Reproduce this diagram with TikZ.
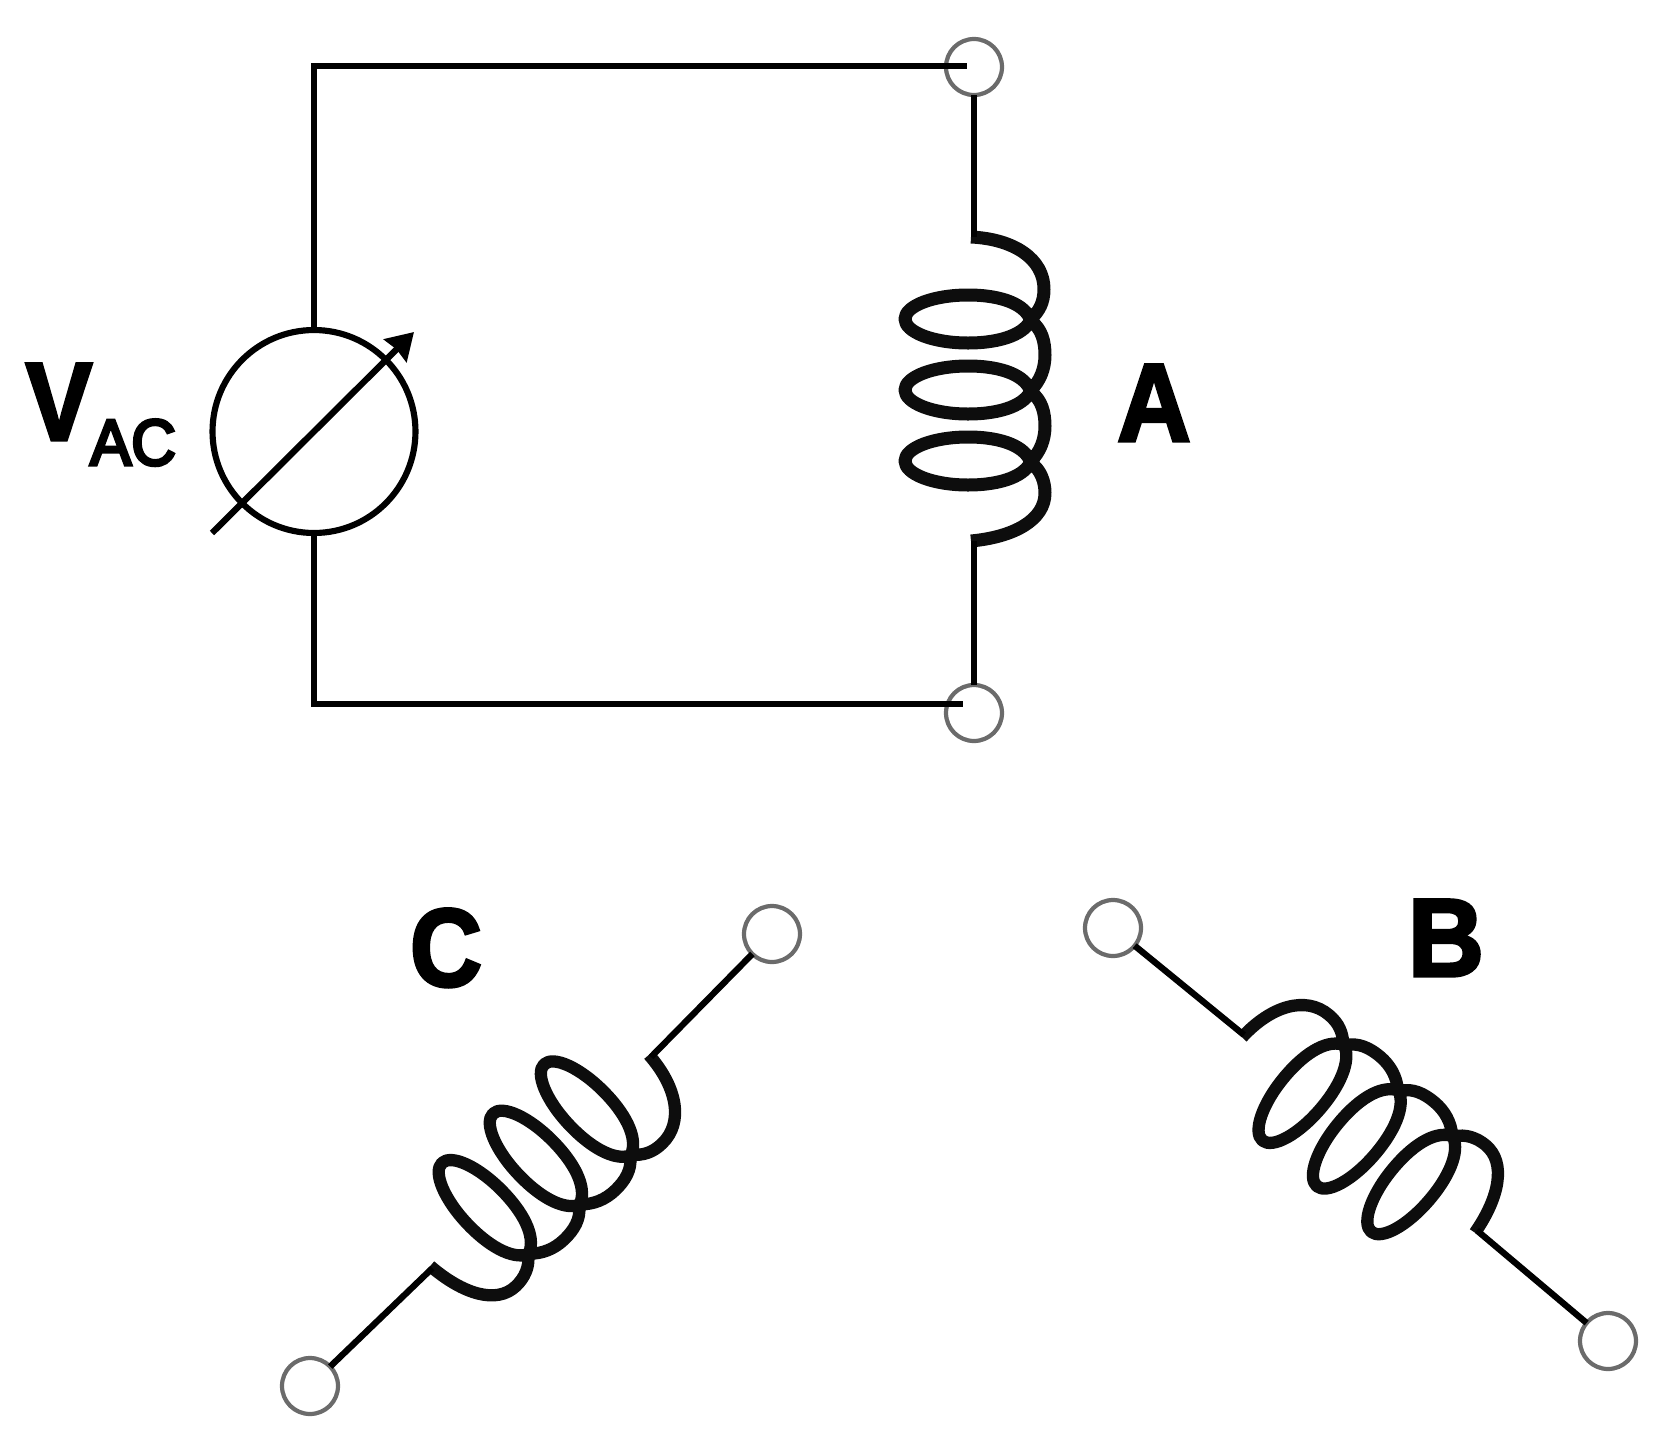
\documentclass[tikz,border=0pt]{standalone}
\usepackage{fontspec}
\setmainfont{Liberation Sans}
\newfontfamily\heavyface[FakeBold=3]{Liberation Sans Bold}
\newfontfamily\medface[FakeBold=5]{Liberation Sans}
\usetikzlibrary{arrows.meta}
\tikzset{
  wire/.style={line width=3.6pt,black,line cap=butt,line join=miter},
  coilwire/.style={line width=#1,black!95!white,line cap=butt,line join=round},
  terminal/.style={circle,draw=black!58,line width=2.4pt,minimum size=1.12cm,inner sep=0pt,outer sep=0pt},
  source/.style={circle,draw=black,line width=3.5pt,minimum size=4.06cm,inner sep=0pt,outer sep=0pt},
  biglabel/.style={inner sep=0pt,outer sep=0pt,anchor=base,font=\fontsize{63}{63}\selectfont\heavyface},
  sublabel/.style={inner sep=0pt,outer sep=0pt,anchor=base,font=\fontsize{37}{37}\selectfont\medface},
}
\newcommand{\coilshape}{
  (-3,0) .. controls (40,2) and (70,22) .. (70,52) .. controls (70,66) and (65,74) .. (57,82)
  .. controls (52,96) and (29,106) .. (-6,106) .. controls (-41,106) and (-69,95) .. (-69,82)
  .. controls (-69,69) and (-41,58) .. (-6,58) .. controls (29,58) and (52,68) .. (57,84)
  .. controls (68,92) and (71,105) .. (71,118) .. controls (71,132) and (66,144) .. (57,153)
  .. controls (52,167) and (29,177) .. (-6,177) .. controls (-41,177) and (-69,166) .. (-69,153)
  .. controls (-69,140) and (-41,129) .. (-6,129) .. controls (29,129) and (52,139) .. (57,155)
  .. controls (68,163) and (71,176) .. (71,189) .. controls (71,203) and (66,215) .. (57,224)
  .. controls (52,238) and (29,248) .. (-6,248) .. controls (-41,248) and (-69,237) .. (-69,224)
  .. controls (-69,211) and (-41,200) .. (-6,200) .. controls (29,200) and (52,210) .. (57,226)
  .. controls (67,233) and (71,245) .. (71,256) .. controls (71,283) and (40,300) .. (-3,304)
}
\begin{document}
\begin{tikzpicture}[x=0.02cm,y=-0.02cm]
\useasboundingbox (0,0) rectangle (1668,1444);

% Source circuit
\node[source] (vac) at (314,431.5) {};
\node[terminal] (tA1) at (974,67) {};
\node[terminal] (tA2) at (974,713) {};
\coordinate (cornerT) at (314,66);
\coordinate (cornerB) at (314,704);
\coordinate (endT) at (967,66);
\coordinate (endB) at (963,704);
\coordinate (arrowS) at (212,533);
\coordinate (arrowE) at (414,332);
\draw[wire] (vac.north) -- (cornerT) -- (endT);
\draw[wire] (vac.south) -- (cornerB) -- (endB);
\draw[wire,-{Stealth[length=15pt,width=18pt,inset=1pt]}] (arrowS) -- (arrowE);

% Coil A
\begin{scope}[shift={(974,237)}]
  \coordinate (a1) at (0,0);
  \coordinate (a2) at (0,304);
  \draw[coilwire=7.4pt] \coilshape;
\end{scope}
\draw[wire] (tA1) -- (a1);
\draw[wire] (a2) -- (tA2);

% Coil B
\node[terminal] (tB1) at (1113,928) {};
\node[terminal] (tB2) at (1608,1341) {};
\begin{scope}[shift={(1244,1035)},rotate=50]
  \coordinate (b1) at (0,0);
  \coordinate (b2) at (0,304);
  \draw[coilwire=7pt] \coilshape;
\end{scope}
\draw[wire] (tB1) -- (b1);
\draw[wire] (b2) -- (tB2);

% Coil C
\node[terminal] (tC1) at (772,934) {};
\node[terminal] (tC2) at (310,1386) {};
\begin{scope}[shift={(651,1057)},rotate=-46]
  \coordinate (c1) at (0,0);
  \coordinate (c2) at (0,304);
  \draw[coilwire=7pt] \coilshape;
\end{scope}
\draw[wire] (tC1) -- (c1);
\draw[wire] (c2) -- (tC2);

% Labels
\node[biglabel] (lV) at (59,440) {\scalebox{0.9}[1]{V}};
\node[sublabel] (lAC) at (133,465) {\scalebox{0.95}[1]{AC}};
\node[biglabel] (lA) at (1154,441) {\scalebox{0.92}[1]{A}};
\node[biglabel] (lB) at (1446,976) {\scalebox{0.95}[1]{B}};
\node[biglabel] (lC) at (446,986) {\scalebox{0.9}[1]{C}};
\end{tikzpicture}
\end{document}
